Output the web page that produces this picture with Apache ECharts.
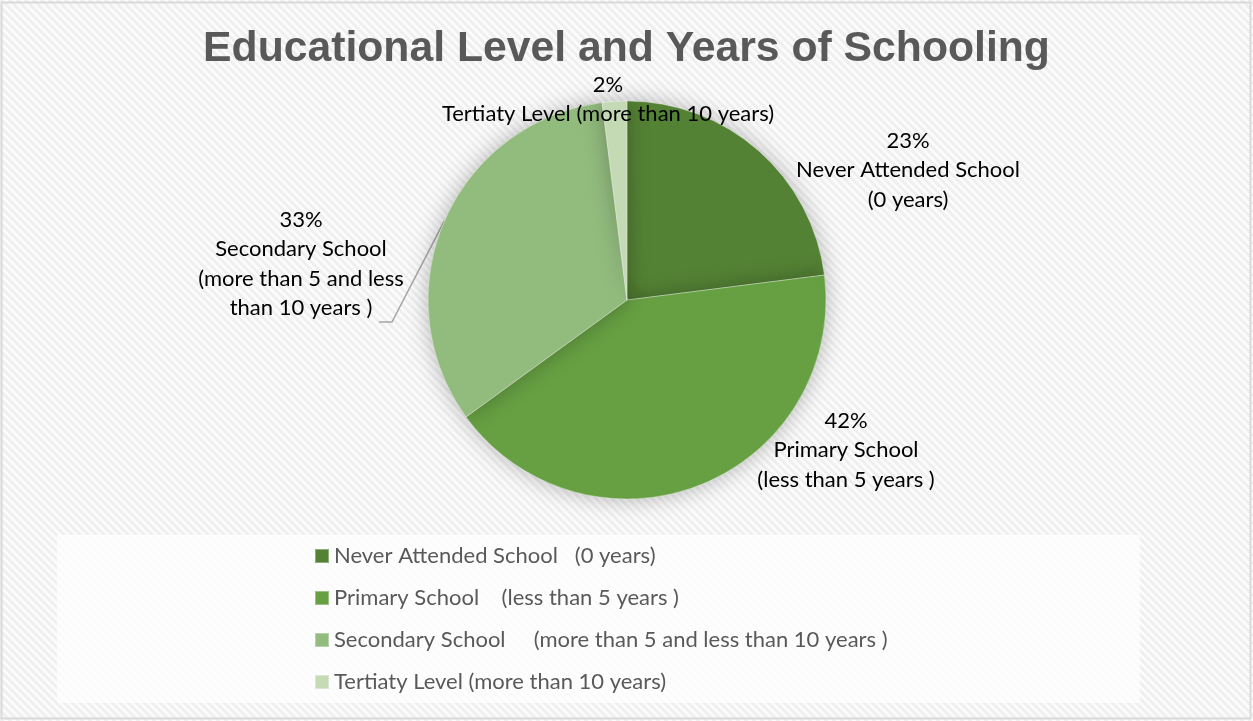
<!DOCTYPE html>
<html>
<head>
<meta charset="utf-8">
<title>Educational Level and Years of Schooling</title>
<script src="https://cdn.jsdelivr.net/npm/echarts@6/dist/echarts.min.js"></script>
<style>
  html, body { margin: 0; padding: 0; background: #ffffff; }
  #chart { width: 1253px; height: 721px; }
</style>
</head>
<body>
<div id="chart"></div>
<script>
// Education categories and their share of respondents (%)
const categories = [
  'Never Attended School   (0 years)',
  'Primary School    (less than 5 years )',
  'Secondary School     (more than 5 and less than 10 years )',
  'Tertiaty Level (more than 10 years)'
];
const shares = [23, 42, 33, 2];
// Wrapped text used for the slice labels
const sliceLabels = [
  'Never Attended School\n(0 years)',
  'Primary School\n(less than 5 years )',
  'Secondary School\n(more than 5 and less\nthan 10 years )',
  'Tertiaty Level (more than 10 years)'
];
const sliceColors = ['#548235', '#67a043', '#92bb7e', '#c4dbb6'];

// Where each label block sits (centre x, top y)
const labelSpots = [
  [908, 126],
  [846, 406],
  [301, 205],
  [608, 70]
];
// Leader line elbow and end for the secondary-school label, relative to its spot
const leaderOffsets = [[91, 117], [78, 117]];

// Diagonal hatch tile for the chart background
function hatchTile() {
  const c = document.createElement('canvas');
  c.width = 8; c.height = 8;
  const ctx = c.getContext('2d');
  for (let y = 0; y < 8; y++) {
    for (let x = 0; x < 8; x++) {
      const k = ((x - y) % 8 + 8) % 8;
      ctx.fillStyle = k < 4 ? '#efefef' : '#fbfbfb';
      ctx.fillRect(x, y, 1, 1);
    }
  }
  return c;
}

const chart = echarts.init(document.getElementById('chart'), null, { renderer: 'canvas' });

const option = {
  backgroundColor: { image: hatchTile(), repeat: 'repeat' },
  title: {
    text: 'Educational Level and Years of Schooling',
    left: 'center',
    top: 23,
    textStyle: {
      fontFamily: '"Liberation Sans", Arial, sans-serif',
      fontWeight: 'bold',
      fontSize: 42.7,
      color: '#595959'
    }
  },
  graphic: [
    {
      type: 'rect',
      z: -10,
      silent: true,
      shape: { x: 1.5, y: 2.5, width: 1249, height: 716 },
      style: { fill: 'none', stroke: '#d9d9d9', lineWidth: 2 }
    },
    {
      type: 'rect',
      z: -5,
      silent: true,
      shape: { x: 57, y: 535, width: 1083, height: 168 },
      style: { fill: 'rgba(255,255,255,0.75)' }
    }
  ],
  legend: {
    orient: 'vertical',
    left: 314,
    top: 544,
    padding: 0,
    itemWidth: 14,
    itemHeight: 14,
    itemGap: 18,
    icon: 'rect',
    selectedMode: false,
    data: categories,
    textStyle: {
      fontFamily: 'Lato, "Noto Sans", sans-serif',
      fontSize: 22,
      lineHeight: 24,
      color: '#595959'
    }
  },
  series: [
    {
      type: 'pie',
      center: [627, 300],
      radius: 199,
      startAngle: 90,
      clockwise: true,
      avoidLabelOverlap: false,
      color: sliceColors,
      itemStyle: {
        borderColor: 'rgba(255,255,255,0.35)',
        borderWidth: 1,
        shadowBlur: 22,
        shadowColor: 'rgba(0,0,0,0.28)'
      },
      emphasis: { disabled: true },
      label: {
        show: true,
        position: 'outside',
        fontFamily: 'Lato, "Noto Sans", sans-serif',
        fontSize: 22,
        lineHeight: 29.5,
        color: '#000000',
        align: 'center',
        formatter: p => Math.round(p.percent) + '%\n' + sliceLabels[p.dataIndex]
      },
      labelLine: { show: false },
      labelLayout: p => {
        const s = labelSpots[p.dataIndex];
        const out = { x: s[0], y: s[1], align: 'center', verticalAlign: 'top' };
        if (p.dataIndex === 2 && p.labelLinePoints && p.labelLinePoints.length) {
          const start = p.labelLinePoints[0];
          out.labelLinePoints = [
            [start[0], start[1]],
            [s[0] + leaderOffsets[0][0], s[1] + leaderOffsets[0][1]],
            [s[0] + leaderOffsets[1][0], s[1] + leaderOffsets[1][1]]
          ];
        }
        return out;
      },
      data: categories.map((name, i) => ({
        name: name,
        value: shares[i],
        labelLine: i === 2
          ? { show: true, lineStyle: { color: '#a6a6a6', width: 1.5 } }
          : { show: false }
      }))
    }
  ]
};

chart.setOption(option);
</script>
</body>
</html>
